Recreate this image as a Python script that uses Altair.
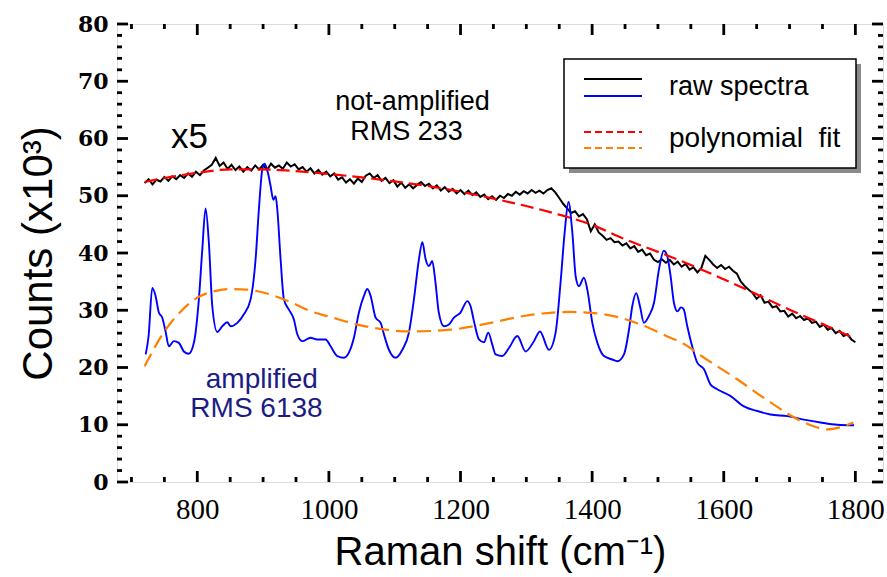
import altair as alt
import numpy as np
import pandas as pd

# ---------------------------------------------------------------------------
# Spectra (Raman shift in cm^-1, counts in units of 10^3)
# ---------------------------------------------------------------------------

# Not-amplified raw spectrum, sampled every 6 cm^-1 from 720 to 1800
RAW_GRID = np.arange(720, 1801, 6)
RAW_COUNTS = [
    52.2, 52.9, 52.0, 52.8, 52.5, 53.3, 52.6, 53.4, 52.9, 53.6,
    53.1, 53.9, 53.3, 54.2, 53.6, 54.4, 54.9, 55.4, 56.6, 55.2,
    55.8, 54.7, 55.4, 54.5, 55.1, 54.2, 55.0, 54.4, 55.3, 54.6,
    55.4, 54.5, 55.6, 54.9, 55.3, 54.7, 55.8, 55.1, 55.5, 54.6,
    55.0, 54.2, 54.8, 53.9, 54.5, 53.7, 54.2, 53.4, 53.9, 52.8,
    53.2, 52.3, 52.9, 52.1, 53.0, 52.4, 53.5, 53.9, 53.1, 53.6,
    52.6, 53.1, 52.2, 52.7, 51.6, 52.3, 51.4, 52.0, 51.3, 51.9,
    52.4, 51.7, 52.1, 51.3, 51.8, 50.9, 51.5, 50.7, 51.2, 50.4,
    51.0, 50.3, 50.9, 50.1, 50.6, 49.8, 50.2, 49.4, 49.9, 49.3,
    50.0, 49.6, 50.3, 50.0, 50.7, 50.2, 50.8, 50.4, 51.0, 50.5,
    50.9, 50.4, 51.0, 51.3, 50.6, 49.6, 48.6, 47.8, 47.0, 47.3,
    46.4, 46.8, 45.9, 43.8, 45.0, 43.6, 43.0, 42.3, 42.6, 41.9,
    42.0, 41.3, 41.7, 40.8, 41.2, 40.2, 40.6, 39.6, 39.9, 38.8,
    38.4, 38.9, 38.3, 38.8, 38.0, 38.5, 37.6, 38.1, 37.1, 37.5,
    36.6, 37.4, 39.5, 38.8, 38.0, 37.4, 37.9, 37.2, 37.6, 36.9,
    36.4, 35.0, 34.2, 33.6, 33.0, 32.0, 32.6, 31.3, 31.5, 30.5,
    30.7, 29.8, 29.9, 28.9, 29.4, 28.6, 29.0, 28.3, 28.6, 27.8,
    28.0, 27.1, 27.5, 26.6, 26.9, 26.0, 26.4, 25.5, 25.8, 24.9,
    24.4,
]

# Amplified spectrum (x5)
AMP_SHIFT = [
    721.6, 726, 731.6, 736.6, 741.6, 746.8, 751.8, 756.8, 764.4, 772,
    779.6, 787, 795, 802.4, 807.6, 812.6, 817.6, 822.8, 830.4, 838,
    845.6, 850.6, 860.8, 870.8, 881, 888.6, 893.6, 898.8, 902.3, 907.3,
    911.4, 915.5, 919, 921.6, 926.6, 931.6, 939.2, 946.8, 952, 959.6,
    972, 982, 995, 1002.6, 1012.8, 1022.8, 1030.4, 1038, 1045.6, 1053.2,
    1058.4, 1063.4, 1071, 1078.6, 1083.6, 1091.2, 1101.4, 1111.6, 1121.6, 1129.2,
    1136.8, 1142, 1147, 1152, 1157, 1162, 1167, 1174.8, 1182.4, 1190,
    1200, 1210.3, 1215.3, 1220.4, 1228, 1235.6, 1242.2, 1248.3, 1253.3, 1263.5,
    1273.6, 1286.3, 1299, 1311.6, 1320.7, 1334.4, 1344.5, 1352, 1358.2, 1364,
    1370, 1375, 1380, 1387.5, 1392.7, 1400.3, 1408, 1418, 1430.7, 1438.3,
    1448.4, 1456, 1461, 1467, 1472.7, 1478.7, 1486.3, 1494, 1501.5, 1509,
    1514.3, 1519.3, 1524.3, 1529.5, 1535, 1539, 1544.6, 1552, 1560, 1570,
    1580, 1590, 1610.5, 1630.7, 1651, 1671, 1696.6, 1722, 1747, 1772.6,
    1798,
]
AMP_COUNTS = [
    22.3, 25.5, 33.9, 32.5, 29.6, 28.7, 26.3, 23.7, 24.6, 24.3,
    22.8, 22.4, 24.4, 31.9, 40.6, 47.8, 41.8, 30.7, 26.2, 27.2,
    27.9, 27.2, 27.8, 29.3, 31.9, 38.9, 47.6, 54.6, 55.6, 54.0,
    51.7, 49.3, 49.9, 47.6, 38.9, 31.9, 30.1, 28.4, 25.8, 24.6,
    25.2, 24.9, 24.9, 23.7, 22.0, 21.7, 22.6, 25.2, 29.6, 32.5,
    33.7, 32.5, 28.7, 27.8, 25.8, 23.1, 21.7, 23.1, 26.1, 31.9,
    38.9, 41.9, 38.9, 37.7, 38.6, 34.8, 29.6, 27.2, 27.5, 28.7,
    29.6, 31.6, 30.7, 28.1, 24.9, 24.4, 26.1, 24.0, 22.3, 22.0,
    23.4, 25.5, 22.8, 24.6, 26.3, 23.1, 26.1, 34.8, 43.5, 48.9,
    43.5, 35.9, 34.2, 35.7, 33.6, 27.8, 24.3, 22.0, 21.4, 21.1,
    22.3, 26.6, 30.7, 33.0, 30.7, 27.8, 29.0, 31.3, 37.1, 40.4,
    39.4, 35.9, 31.3, 29.8, 30.5, 30.2, 27.2, 23.7, 20.8, 19.7,
    17.0, 16.2, 15.0, 13.2, 12.4, 11.8, 11.5, 10.9, 10.4, 10.0,
    9.9,
]

# Polynomial backgrounds
RAW_FIT_SHIFT = [720, 760, 800, 850, 900, 950, 1000, 1050, 1100, 1150, 1200, 1250,
                 1300, 1350, 1400, 1450, 1500, 1550, 1600, 1650, 1700, 1750, 1800]
RAW_FIT_COUNTS = [52.4, 53.3, 54.0, 54.6, 54.6, 54.3, 53.8, 53.2, 52.5, 51.7, 50.7, 49.5,
                  48.2, 46.7, 44.9, 42.4, 40.2, 37.9, 35.4, 32.8, 30.1, 27.6, 25.0]

AMP_FIT_SHIFT = [720, 750, 775, 800, 825, 850, 875, 900, 940, 975, 1000, 1043, 1080,
                 1124, 1185, 1246, 1296, 1340, 1367, 1418, 1474, 1519, 1535, 1570,
                 1621, 1671, 1722, 1758, 1775, 1797]
AMP_FIT_COUNTS = [20.2, 26.3, 29.8, 32.2, 33.3, 33.7, 33.6, 33.1, 31.5, 29.7, 28.9, 27.5,
                  26.7, 26.3, 26.6, 27.8, 29.0, 29.6, 29.7, 29.3, 27.5, 25.2, 24.4, 21.7,
                  17.9, 13.9, 10.4, 9.2, 9.5, 10.4]

# Axis ticks
X_MAJOR = [800, 1000, 1200, 1400, 1600, 1800]
X_MINOR = [700, 750, 850, 900, 950, 1050, 1100, 1150, 1250, 1300, 1350,
           1450, 1500, 1550, 1650, 1700, 1750]
Y_MAJOR = [0, 10, 20, 30, 40, 50, 60, 70, 80]
Y_MINOR = [v for v in range(0, 81, 2) if v % 10 != 0]

# Text annotations: (x, y, text)
ANNOT_BLACK = pd.DataFrame({
    "x": [1127, 1118],
    "y": [66.3, 61.2],
    "t": ["not-amplified", "RMS 233"],
})
ANNOT_NAVY = pd.DataFrame({
    "x": [898, 890],
    "y": [17.9, 12.7],
    "t": ["amplified", "RMS 6138"],
})
ANNOT_SCALE = pd.DataFrame({"x": [788], "y": [60.3], "t": ["x5"]})

# ---------------------------------------------------------------------------
W, H = 766, 458
X_DOMAIN = [678, 1842]
Y_DOMAIN = [0, 80]
SANS = "Liberation Sans"
X_TITLE = "Raman shift (cm⁻¹)"
Y_TITLE = "Counts (x10³)"

xs = alt.Scale(domain=X_DOMAIN, nice=False, zero=False)
ys = alt.Scale(domain=Y_DOMAIN, nice=False, zero=False)

x_axis = alt.Axis(
    values=X_MAJOR, format="d", labelFont="Liberation Serif", labelFontSize=29,
    labelColor="black", labelPadding=13, ticks=False, tickSize=0, domain=False,
    grid=False, title=X_TITLE, titleFont=SANS, titleFontSize=40,
    titleFontWeight="normal", titleColor="black", titlePadding=8,
)
y_axis = alt.Axis(
    values=Y_MAJOR, format="d", labelFont="DejaVu Serif", labelFontSize=22,
    labelFontWeight="bold", labelColor="black", labelPadding=9, ticks=False,
    tickSize=0, domain=False, grid=False, title=Y_TITLE, titleFont=SANS,
    titleFontSize=42, titleFontWeight="normal", titleColor="black", titlePadding=17,
)


def X(field):
    return alt.X(field, scale=xs, axis=x_axis, title=X_TITLE)


def Y(field):
    return alt.Y(field, scale=ys, axis=y_axis, title=Y_TITLE)


raw_df = pd.DataFrame({"shift": RAW_GRID, "counts": RAW_COUNTS})
amp_df = pd.DataFrame({"shift": AMP_SHIFT, "counts": AMP_COUNTS})
raw_fit_df = pd.DataFrame({"shift": RAW_FIT_SHIFT, "counts": RAW_FIT_COUNTS})
amp_fit_df = pd.DataFrame({"shift": AMP_FIT_SHIFT, "counts": AMP_FIT_COUNTS})

raw_line = alt.Chart(raw_df).mark_line(color="black", strokeWidth=2).encode(
    x=X("shift:Q"), y=Y("counts:Q"))
amp_line = alt.Chart(amp_df).mark_line(
    color="#0000ff", strokeWidth=1.9, interpolate="monotone"
).encode(x=X("shift:Q"), y=Y("counts:Q"))
raw_fit = alt.Chart(raw_fit_df).mark_line(
    color="#ff0000", strokeWidth=2.2, strokeDash=[13, 6], interpolate="monotone"
).encode(x=X("shift:Q"), y=Y("counts:Q"))
amp_fit = alt.Chart(amp_fit_df).mark_line(
    color="#ff8000", strokeWidth=2.2, strokeDash=[14, 7], interpolate="monotone"
).encode(x=X("shift:Q"), y=Y("counts:Q"))


# Inward-pointing ticks on all four sides of the frame
def x_ticks(values, length, width):
    d = pd.DataFrame({"v": values})
    bottom = alt.Chart(d).mark_rule(color="black", strokeWidth=width).encode(
        x=X("v:Q"), y=alt.value(H), y2=alt.value(H - length))
    top = alt.Chart(d).mark_rule(color="black", strokeWidth=width).encode(
        x=X("v:Q"), y=alt.value(0), y2=alt.value(length))
    return [bottom, top]


def y_ticks(values, length, width):
    d = pd.DataFrame({"v": values})
    left = alt.Chart(d).mark_rule(color="black", strokeWidth=width).encode(
        y=Y("v:Q"), x=alt.value(0), x2=alt.value(length))
    right = alt.Chart(d).mark_rule(color="black", strokeWidth=width).encode(
        y=Y("v:Q"), x=alt.value(W), x2=alt.value(W - length))
    return [left, right]


ticks = (x_ticks(X_MAJOR, 11, 2.8) + x_ticks(X_MINOR, 5, 2.8)
         + y_ticks(Y_MAJOR, 11, 2.8) + y_ticks(Y_MINOR, 5, 2.8))


def annot(df, color, size):
    return alt.Chart(df).mark_text(
        font=SANS, fontSize=size, color=color, align="center", baseline="middle"
    ).encode(x=X("x:Q"), y=Y("y:Q"), text="t:N")


labels = [
    annot(ANNOT_BLACK, "black", 27),
    annot(ANNOT_NAVY, "#1c1c84", 28),
    annot(ANNOT_SCALE, "black", 35),
]

# Legend box drawn inside the plot area
one = pd.DataFrame({"k": [0]})
LX0, LX1, LY0, LY1 = 447, 739, 35, 144
legend = [
    alt.Chart(one).mark_rect(fill="#8a8a8a").encode(
        x=alt.value(LX0 + 5), x2=alt.value(LX1 + 5), y=alt.value(LY0 + 5), y2=alt.value(LY1 + 5)),
    alt.Chart(one).mark_rect(fill="white", stroke="black", strokeWidth=1.5).encode(
        x=alt.value(LX0), x2=alt.value(LX1), y=alt.value(LY0), y2=alt.value(LY1)),
    alt.Chart(one).mark_rule(color="black", strokeWidth=1.8).encode(
        x=alt.value(467), x2=alt.value(525), y=alt.value(55)),
    alt.Chart(one).mark_rule(color="#0000ff", strokeWidth=1.8).encode(
        x=alt.value(467), x2=alt.value(525), y=alt.value(72)),
    alt.Chart(one).mark_rule(color="#ff0000", strokeWidth=1.8, strokeDash=[7, 4]).encode(
        x=alt.value(467), x2=alt.value(525), y=alt.value(108)),
    alt.Chart(one).mark_rule(color="#ff8000", strokeWidth=1.8, strokeDash=[7, 4]).encode(
        x=alt.value(467), x2=alt.value(525), y=alt.value(124)),
    alt.Chart(one).mark_text(font=SANS, fontSize=27, color="black", align="left",
                             baseline="middle").encode(
        x=alt.value(552), y=alt.value(63), text=alt.value("raw spectra")),
    alt.Chart(one).mark_text(font=SANS, fontSize=28, color="black", align="left",
                             baseline="middle").encode(
        x=alt.value(552), y=alt.value(115), text=alt.value("polynomial\u00a0\u00a0fit")),
]

chart = alt.layer(
    raw_line, amp_line, raw_fit, amp_fit, *ticks, *labels, *legend
).properties(
    width=W, height=H,
    autosize=alt.AutoSizeParams(type="none"),
    padding={"left": 117, "top": 24, "right": 4, "bottom": 95},
).configure_view(
    stroke="black", strokeWidth=3
).configure(
    background="white"
)

chart.save("out.html", embed_options={"renderer": "svg", "actions": False})
